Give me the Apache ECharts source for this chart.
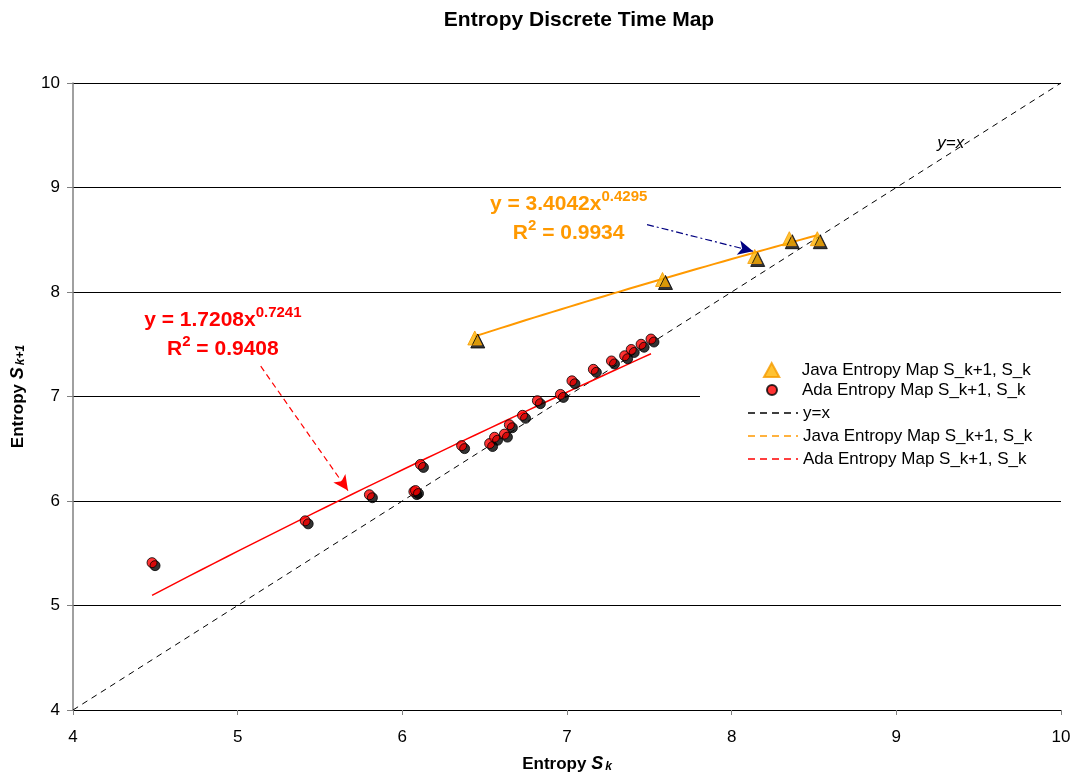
<!DOCTYPE html>
<html><head><meta charset="utf-8">
<script src="https://cdn.jsdelivr.net/npm/echarts@6/dist/echarts.min.js"></script>
<style>html,body{margin:0;padding:0;background:#fff;overflow:hidden}#c{width:100vw;height:100vh}</style>
</head><body><div id="c"></div>
<script>
// ---- data ----
const adaX = [4.48, 5.41, 5.80, 6.07, 6.08, 6.11, 6.36, 6.53, 6.56, 6.62, 6.65, 6.73, 6.82, 6.96, 7.03, 7.16, 7.27, 7.35, 7.39, 7.45, 7.51];
const adaY = [5.41, 5.81, 6.06, 6.09, 6.10, 6.35, 6.53, 6.55, 6.61, 6.64, 6.73, 6.82, 6.96, 7.02, 7.15, 7.26, 7.34, 7.39, 7.45, 7.50, 7.55];
const javaX = [6.44, 7.58, 8.14, 8.35, 8.52];
const javaY = [7.56, 8.12, 8.34, 8.51, 8.51];
const identityX = [4, 10];
const identityY = [4, 10];
// power-law trendlines as labelled on the chart: y = a * x^b
const javaFit = {a: 3.4042, b: 0.4295, r2: '0.9934'};
const adaFit = {a: 1.7208, b: 0.7241, r2: '0.9408'};
const axisMin = 4, axisMax = 10, axisStep = 1;
const nameJava = 'Java Entropy Map S_k+1, S_k';
const nameAda = 'Ada Entropy Map S_k+1, S_k';
const nameJavaFit = nameJava + ' ';
const nameAdaFit = nameAda + '  ';

function pairs(xs, ys) { return xs.map((x, i) => [x, ys[i]]); }
function fitCurve(fit, xs) {
  const lo = Math.min(...xs), hi = Math.max(...xs), n = 40, out = [];
  for (let i = 0; i <= n; i++) { const x = lo + (hi - lo) * i / n; out.push([x, fit.a * Math.pow(x, fit.b)]); }
  return out;
}

const ORANGE = '#FF9900', RED = '#FF0000';
const FONT = '"Liberation Sans", Arial, sans-serif';
const chart = echarts.init(document.getElementById('c'), null, {renderer: 'canvas'});

const DASH_ICON = 'path://M0,0h7v1.5h-7z M12,0h7v1.5h-7z M24,0h7v1.5h-7z M36,0h7v1.5h-7z M48,0h2v1.5h-2z';
const TRI_ICON = 'path://M6,0L12,11L0,11Z';
const legendRows = [
  {name: nameJava, center: 370, h: 14, icon: TRI_ICON, left: 763},
  {name: nameAda, center: 390, h: 10, icon: 'circle', left: 766},
  {name: 'y=x', center: 413, h: 14, icon: DASH_ICON, color: '#000', left: 748},
  {name: nameJavaFit, center: 436, h: 14, icon: DASH_ICON, color: ORANGE, left: 748},
  {name: nameAdaFit, center: 459, h: 14, icon: DASH_ICON, color: RED, left: 748}
];
const legends = legendRows.map(r => ({
  orient: 'vertical', left: r.left, top: r.center - 10, padding: 0,
  itemWidth: 50, itemHeight: r.h, itemGap: 0, selectedMode: false,
  textStyle: {fontSize: 17, color: '#000', fontFamily: FONT, lineHeight: 20},
  data: [Object.assign({name: r.name, icon: r.icon}, r.color ? {itemStyle: {color: r.color, borderWidth: 0}} : {})]
}));

const labelRich = (color) => ({
  b: {fontSize: 21, fontWeight: 'bold', color: color, fontFamily: FONT, lineHeight: 29},
  p: {fontSize: 15, fontWeight: 'bold', color: color, fontFamily: FONT, verticalAlign: 'top', lineHeight: 29, padding: [0, 0, 10, 0]}
});

chart.setOption({
  animation: false,
  textStyle: {fontFamily: FONT},
  title: {
    text: 'Entropy Discrete Time Map', left: 574, textAlign: 'center', top: 5,
    textStyle: {fontSize: 21, fontWeight: 'bold', color: '#000', fontFamily: FONT}
  },
  grid: {left: 73, top: '10.668%', width: 988, height: '80.977%'},
  graphic: [{
    type: 'rect', left: 700, top: 356, z: 3, silent: true,
    shape: {width: 378, height: 121}, style: {fill: '#fff'}
  }],
  legend: legends,
  xAxis: {
    type: 'value', min: axisMin, max: axisMax, interval: axisStep,
    name: '{b|Entropy }{i|S}{s|k}', nameLocation: 'middle', nameGap: 45,
    nameTextStyle: {rich: {
      b: {fontSize: 17, fontWeight: 'bold', color: '#000', fontFamily: FONT},
      i: {fontSize: 18, fontWeight: 'bold', fontStyle: 'italic', color: '#000', fontFamily: FONT},
      s: {fontSize: 12, fontWeight: 'bold', fontStyle: 'italic', color: '#000', fontFamily: FONT, verticalAlign: 'bottom', padding: [6, 0, 0, 2]}
    }},
    axisLine: {show: true, lineStyle: {color: '#000', width: 1}},
    axisTick: {show: true, length: 5, lineStyle: {color: '#808080'}},
    axisLabel: {fontSize: 17, color: '#000', margin: 19, fontFamily: FONT},
    splitLine: {show: false}
  },
  yAxis: {
    type: 'value', min: axisMin, max: axisMax, interval: axisStep,
    name: '{b|Entropy }{i|S}{s|k+1}', nameLocation: 'middle', nameGap: 46, nameRotate: 90,
    nameTextStyle: {rich: {
      b: {fontSize: 17, fontWeight: 'bold', color: '#000', fontFamily: FONT},
      i: {fontSize: 18, fontWeight: 'bold', fontStyle: 'italic', color: '#000', fontFamily: FONT},
      s: {fontSize: 12, fontWeight: 'bold', fontStyle: 'italic', color: '#000', fontFamily: FONT, verticalAlign: 'bottom', padding: [6, 0, 0, 2]}
    }},
    axisLine: {show: true, lineStyle: {color: '#808080', width: 1.5}},
    axisTick: {show: true, length: 6, lineStyle: {color: '#808080'}},
    axisLabel: {fontSize: 17, color: '#000', margin: 13, fontFamily: FONT},
    splitLine: {show: true, lineStyle: {color: '#000', width: 1}}
  },
  series: [
    {
      name: 'y=x', type: 'line', symbol: 'none', z: 2,
      data: pairs(identityX, identityY),
      lineStyle: {color: '#000', width: 1, type: [6, 5]},
      itemStyle: {color: '#000'},
      markPoint: {
        symbol: 'circle', symbolSize: 0,
        label: {show: true, formatter: 'y=x', fontSize: 17, fontStyle: 'italic', color: '#000', fontFamily: FONT},
        data: [{coord: [9.33, 9.42]}]
      }
    },
    {
      name: nameJavaFit, type: 'line', symbol: 'none', z: 3,
      data: fitCurve(javaFit, javaX),
      lineStyle: {color: ORANGE, width: 2},
      itemStyle: {color: ORANGE},
      markPoint: {
        symbol: 'circle', symbolSize: 0,
        label: {
          show: true, align: 'center', verticalAlign: 'middle',
          formatter: '{b|y = ' + javaFit.a.toFixed(4) + 'x}{p|' + javaFit.b + '}\n{b|R}{p|2}{b| = ' + javaFit.r2 + '}',
          rich: labelRich(ORANGE)
        },
        data: [{coord: [7.01, 8.70]}]
      },
      markLine: {
        silent: true, symbol: ['none', 'arrow'], symbolSize: [11, 15],
        label: {show: false},
        lineStyle: {color: '#000080', width: 1.2, type: [7, 3, 2, 3]},
        data: [[{coord: [7.486, 8.645]}, {coord: [8.13, 8.39]}]]
      }
    },
    {
      name: nameAdaFit, type: 'line', symbol: 'none', z: 3,
      data: fitCurve(adaFit, adaX),
      lineStyle: {color: RED, width: 1.5},
      itemStyle: {color: RED},
      markPoint: {
        symbol: 'circle', symbolSize: 0,
        label: {
          show: true, align: 'center', verticalAlign: 'middle',
          formatter: '{b|y = ' + adaFit.a.toFixed(4) + 'x}{p|' + adaFit.b + '}\n{b|R}{p|2}{b| = ' + adaFit.r2 + '}',
          rich: labelRich(RED)
        },
        data: [{coord: [4.91, 7.59]}]
      },
      markLine: {
        silent: true, symbol: ['none', 'arrow'], symbolSize: [11, 15],
        label: {show: false},
        lineStyle: {color: RED, width: 1.2, type: [6, 4]},
        data: [[{coord: [5.14, 7.29]}, {coord: [5.67, 6.10]}]]
      }
    },
    {
      name: nameJava, type: 'scatter', symbol: 'triangle', symbolSize: 14, z: 5,
      data: pairs(javaX, javaY),
      itemStyle: {color: '#FFB300', borderColor: '#F59B00', borderWidth: 1,
        shadowColor: '#000', shadowOffsetX: 3, shadowOffsetY: 3, shadowBlur: 0}
    },
    {
      name: nameAda, type: 'scatter', symbol: 'circle', symbolSize: 10, z: 5,
      data: pairs(adaX, adaY),
      itemStyle: {color: RED, borderColor: '#000', borderWidth: 1,
        shadowColor: '#000', shadowOffsetX: 3, shadowOffsetY: 3, shadowBlur: 0}
    }
  ]
});
</script></body></html>
